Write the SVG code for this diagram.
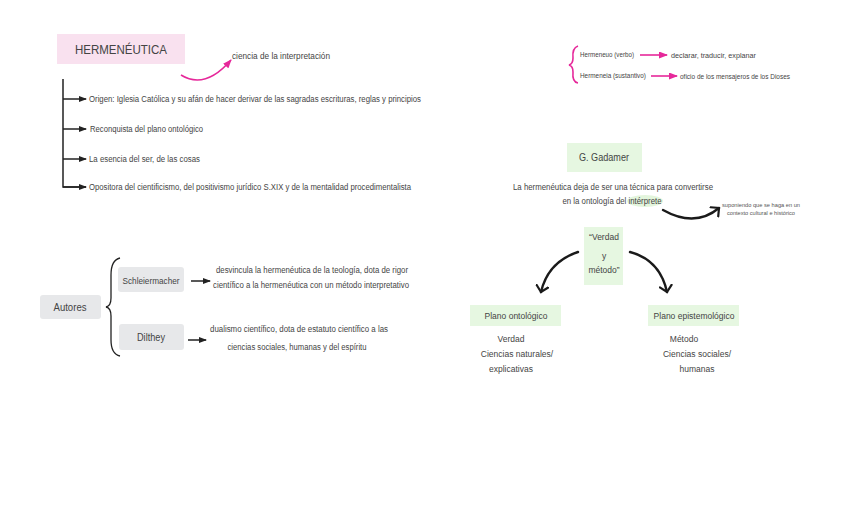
<svg xmlns="http://www.w3.org/2000/svg" width="848" height="530" viewBox="0 0 848 530">
<defs>
<style>
text{font-family:"Liberation Sans",Arial,sans-serif;fill:#444;font-size:8.5px}
.c{text-anchor:middle}
.t{font-size:10px}
.s{font-size:5px;fill:#555}
.pink{fill:#f9e1ef}
.green{fill:#e6f7e1}
.gray{fill:#e7e8ea}
.ln{fill:none;stroke:#222;stroke-width:1.5}
.pk{fill:none;stroke:#e6289a;stroke-width:1.6}
.bk{fill:none;stroke:#1a1a1a;stroke-width:2.4;stroke-linecap:round}
</style>
<marker id="ab" markerWidth="8" markerHeight="6" refX="7" refY="3" orient="auto" markerUnits="userSpaceOnUse"><path d="M0,0 L8,3 L0,6 Z" fill="#222"/></marker>
<marker id="ap" markerWidth="9" markerHeight="7" refX="8" refY="3.5" orient="auto" markerUnits="userSpaceOnUse"><path d="M0,0 L9,3.5 L0,7 Z" fill="#e6289a"/></marker>
<marker id="av" markerWidth="14" markerHeight="14" refX="7" refY="7" orient="auto" markerUnits="userSpaceOnUse"><path d="M1,1 L7,7 L1,13" fill="none" stroke="#1a1a1a" stroke-width="2.2" stroke-linecap="round"/></marker>
</defs>

<g id="connectors">
<path class="pk" d="M181,75 Q205,90 231,60" marker-end="url(#ap)"/>
<path class="ln" d="M63,79 L63,187 L86,187"/>
<path class="ln" d="M63,99 L86,99" marker-end="url(#ab)"/>
<path class="ln" d="M63,129 L86,129" marker-end="url(#ab)"/>
<path class="ln" d="M63,159 L86,159" marker-end="url(#ab)"/>
<path class="ln" d="M63,187 L86,187" marker-end="url(#ab)"/>
<path class="pk" d="M578,46 Q572,48 573,58 Q573,64 569,65 Q573,66 573,72 Q572,82 578,83" stroke-width="1.2"/>
<path class="pk" d="M640,55 L667,55" marker-end="url(#ap)"/>
<path class="pk" d="M651,76 L677,76" marker-end="url(#ap)"/>
<path class="bk" d="M663,210 Q695,228 719,208" marker-end="url(#av)"/>
<path class="bk" d="M578,252 Q548,262 541,292" marker-end="url(#av)"/>
<path class="bk" d="M630,252 Q660,260 667,292" marker-end="url(#av)"/>
<path class="ln" d="M191,281 L210,281" marker-end="url(#ab)"/>
<path class="ln" d="M188,340 L206,340" marker-end="url(#ab)"/>
<path fill="none" stroke="#222" stroke-width="1.3" d="M120,258 Q111,260 111,275 L111,298 Q111,306 106,307 Q111,308 111,316 L111,340 Q111,354 120,356"/>
</g>

<g id="hermeneutica">
<rect class="pink" x="57" y="34" width="128" height="30"/>
<text class="c" x="121" y="54" style="font-size:13px" textLength="92" lengthAdjust="spacingAndGlyphs">HERMENÉUTICA</text>
</g>
<g id="ciencia"><text x="232" y="59" textLength="98" lengthAdjust="spacingAndGlyphs">ciencia de la interpretación</text></g>
<g id="origen"><text x="89" y="102" textLength="332" lengthAdjust="spacingAndGlyphs">Origen: Iglesia Católica y su afán de hacer derivar de las sagradas escrituras, reglas y principios</text></g>
<g id="reconquista"><text x="90" y="132" textLength="113" lengthAdjust="spacingAndGlyphs">Reconquista del plano ontológico</text></g>
<g id="esencia"><text x="89" y="162" textLength="111" lengthAdjust="spacingAndGlyphs">La esencia del ser, de las cosas</text></g>
<g id="opositora"><text x="89" y="190" textLength="322" lengthAdjust="spacingAndGlyphs">Opositora del cientificismo, del positivismo jurídico S.XIX y de la mentalidad procedimentalista</text></g>

<g id="hermeneuo"><text x="580" y="57" style="font-size:7px" textLength="54" lengthAdjust="spacingAndGlyphs">Hermeneuo (verbo)</text></g>
<g id="declarar"><text x="671" y="58" style="font-size:7px" textLength="85" lengthAdjust="spacingAndGlyphs">declarar, traducir, explanar</text></g>
<g id="hermeneia"><text x="580" y="78" style="font-size:7px" textLength="66" lengthAdjust="spacingAndGlyphs">Hermeneia (sustantivo)</text></g>
<g id="oficio"><text x="680" y="79" style="font-size:7px" textLength="110" lengthAdjust="spacingAndGlyphs">oficio de los mensajeros de los Dioses</text></g>

<g id="gadamer">
<rect class="green" x="567" y="143" width="75" height="29"/>
<text class="c t" x="604" y="161" textLength="50" lengthAdjust="spacingAndGlyphs">G. Gadamer</text>
</g>
<g id="deja">
<ellipse cx="645" cy="201" rx="18" ry="6" fill="#e3f5dc"/>
<text class="c" x="613" y="190" textLength="200" lengthAdjust="spacingAndGlyphs">La hermenéutica deja de ser una técnica para convertirse</text>
<text class="c" x="612" y="204" textLength="99" lengthAdjust="spacingAndGlyphs">en la ontología del intérprete</text>
</g>
<g id="nota">
<text class="c s" x="761" y="207" textLength="78" lengthAdjust="spacingAndGlyphs">suponiendo que se haga en un</text>
<text class="c s" x="761" y="215" textLength="68" lengthAdjust="spacingAndGlyphs">contexto cultural e histórico</text>
</g>
<g id="verdad-metodo">
<rect class="green" x="584" y="227" width="39" height="58"/>
<text class="c" x="604" y="240">“Verdad</text>
<text class="c" x="604" y="259">y</text>
<text class="c" x="604" y="273">método”</text>
</g>
<g id="plano-ontologico">
<rect class="green" x="470" y="305" width="91" height="21"/>
<text class="c" x="516" y="319">Plano ontológico</text>
</g>
<g id="plano-epistemologico">
<rect class="green" x="648" y="305" width="91" height="21"/>
<text class="c" x="694" y="319">Plano epistemológico</text>
</g>
<g id="verdad-list">
<text class="c" x="511" y="342">Verdad</text>
<text class="c" x="517" y="357">Ciencias naturales/</text>
<text class="c" x="511" y="372">explicativas</text>
</g>
<g id="metodo-list">
<text class="c" x="684" y="342">Método</text>
<text class="c" x="697" y="357">Ciencias sociales/</text>
<text class="c" x="697" y="372">humanas</text>
</g>

<g id="autores">
<rect class="gray" x="40" y="295" width="61" height="24" rx="3"/>
<text class="c t" x="70" y="311" textLength="33" lengthAdjust="spacingAndGlyphs">Autores</text>
</g>
<g id="schleiermacher">
<rect class="gray" x="118" y="267" width="66" height="25" rx="3"/>
<text class="c" x="151" y="284" textLength="57" lengthAdjust="spacingAndGlyphs">Schleiermacher</text>
</g>
<g id="schleiermacher-desc">
<text class="c" x="312" y="273" textLength="192" lengthAdjust="spacingAndGlyphs">desvincula la hermenéutica de la teología, dota de rigor</text>
<text class="c" x="311" y="288" textLength="196" lengthAdjust="spacingAndGlyphs">científico a la hermenéutica con un método interpretativo</text>
</g>
<g id="dilthey">
<rect class="gray" x="119" y="324" width="65" height="26" rx="3"/>
<text class="c t" x="151" y="341" textLength="28" lengthAdjust="spacingAndGlyphs">Dilthey</text>
</g>
<g id="dilthey-desc">
<text class="c" x="299" y="332" textLength="178" lengthAdjust="spacingAndGlyphs">dualismo científico, dota de estatuto científico a las</text>
<text class="c" x="297" y="350" textLength="139" lengthAdjust="spacingAndGlyphs">ciencias sociales, humanas y del espíritu</text>
</g>
</svg>
